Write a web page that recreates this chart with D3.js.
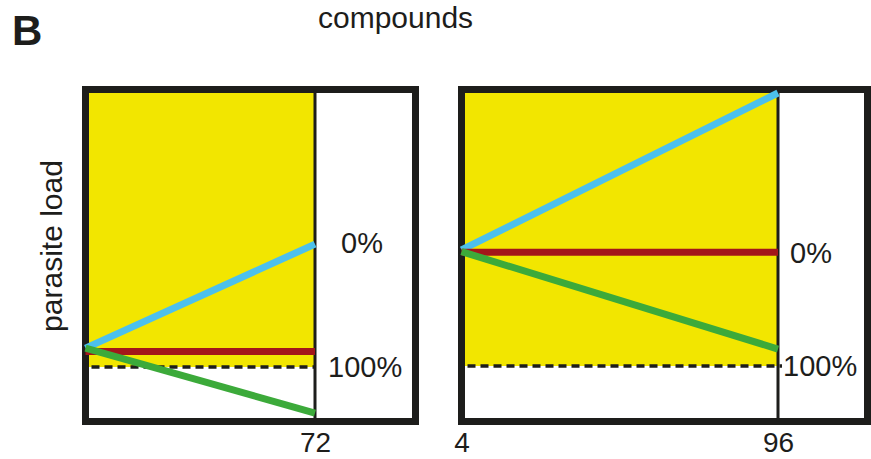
<!DOCTYPE html>
<html>
<head>
<meta charset="utf-8">
<script src="https://cdn.jsdelivr.net/npm/d3@7"></script>
<style>
  body { margin: 0; background: #fff; }
  text { font-family: 'Liberation Sans', Arial, sans-serif; fill: #1d1d1b; }
</style>
</head>
<body>
<div id="chart"></div>
<script>
// hours covered by each panel and the ticks shown under it
const timeDomains = [[0, 72], [4, 96]];
const tickValues = [[72], [4, 96]];
const tickLabels = [['72'], ['4', '96']];

// parasite load (0 = panel floor, 100 = panel top), [start, end]
const seriesNames = ['growth', 'stasis', 'clearance'];
const growthLoad = [[21.5, 53.5], [51.7, 100]];
const stasisLoad = [[20.5, 20.5], [51, 51]];
const clearanceLoad = [[21.5, 1.5], [51.2, 21.2]];

// level of 100% kill (dashed) and level of the 0% label
const fullKillLoad = [15.7, 16];
const zeroLevelLoad = [53.8, 50.8];
const percentLabels = ['0%', '100%'];

const width = 871;
const height = 459;
const colors = { growth: '#4cc0ec', stasis: '#a3161a', clearance: '#3caa3a' };
const frameColor = '#1d1d1b';

// frame centre lines and the divider position for each panel
const panelBoxes = [
  { x0: 85.5, x1: 415.5, divider: 315, labelDx: [26, 13] },
  { x0: 461.5, x1: 867.5, divider: 778, labelDx: [12, 5] },
];

const svg = d3.select('#chart').append('svg')
  .attr('width', width)
  .attr('height', height);

const y = d3.scaleLinear()
  .domain([0, 100])
  .range([418, 93]);

const frameTop = 89.5;
const frameBottom = 421.5;

svg.append('text')
  .attr('x', 12)
  .attr('y', 45)
  .style('font-size', '42px')
  .style('font-weight', 'bold')
  .text('B');

svg.append('text')
  .attr('x', 318)
  .attr('y', 28)
  .style('font-size', '30px')
  .text('compounds');

svg.append('text')
  .attr('transform', 'translate(62,246) rotate(-90)')
  .attr('text-anchor', 'middle')
  .style('font-size', '30px')
  .text('parasite load');

const seriesData = [growthLoad, stasisLoad, clearanceLoad];

panelBoxes.forEach((box, p) => {
  const x = d3.scaleLinear()
    .domain(timeDomains[p])
    .range([box.x0, box.divider]);

  const g = svg.append('g').attr('class', `panel-${p}`);
  const [t0, t1] = timeDomains[p];

  g.append('rect')
    .attr('x', x(t0))
    .attr('y', y(100))
    .attr('width', x(t1) - x(t0))
    .attr('height', y(fullKillLoad[p]) - y(100))
    .attr('fill', '#f2e600');

  g.append('line')
    .attr('x1', x(t0) + 6)
    .attr('x2', x(t1) + (p === 1 ? 4 : 0))
    .attr('y1', y(fullKillLoad[p]))
    .attr('y2', y(fullKillLoad[p]))
    .attr('stroke', frameColor)
    .attr('stroke-width', 3.5)
    .attr('stroke-dasharray', '8,5');

  g.append('rect')
    .attr('x', box.x0)
    .attr('y', frameTop)
    .attr('width', box.x1 - box.x0)
    .attr('height', frameBottom - frameTop)
    .attr('fill', 'none')
    .attr('stroke', frameColor)
    .attr('stroke-width', 7);

  g.append('line')
    .attr('x1', x(t1))
    .attr('x2', x(t1))
    .attr('y1', frameTop)
    .attr('y2', frameBottom)
    .attr('stroke', frameColor)
    .attr('stroke-width', 3);

  const line = d3.line()
    .x((d, i) => x(timeDomains[p][i]))
    .y(d => y(d));

  g.selectAll('.series')
    .data(seriesNames.map((name, i) => ({ name, values: seriesData[i][p] })))
    .enter().append('path')
    .attr('class', 'series')
    .attr('d', d => line(d.values))
    .attr('fill', 'none')
    .attr('stroke', d => colors[d.name])
    .attr('stroke-width', 7);

  const levels = [zeroLevelLoad[p], fullKillLoad[p]];
  g.selectAll('.pct')
    .data(percentLabels)
    .enter().append('text')
    .attr('class', 'pct')
    .attr('x', (d, i) => x(t1) + box.labelDx[i])
    .attr('y', (d, i) => y(levels[i]))
    .attr('dy', '0.35em')
    .style('font-size', '29px')
    .text(d => d);

  const axis = d3.axisBottom(x)
    .tickValues(tickValues[p])
    .tickFormat((d, i) => tickLabels[p][i])
    .tickSize(0)
    .tickPadding(0);

  const axisG = g.append('g')
    .attr('transform', 'translate(0,432)')
    .call(axis);
  axisG.select('.domain').remove();
  axisG.selectAll('text')
    .attr('dy', '0.71em')
    .style('font-size', '28px')
    .style('font-family', "'Liberation Sans', Arial, sans-serif")
    .attr('fill', frameColor);
});
</script>
</body>
</html>
